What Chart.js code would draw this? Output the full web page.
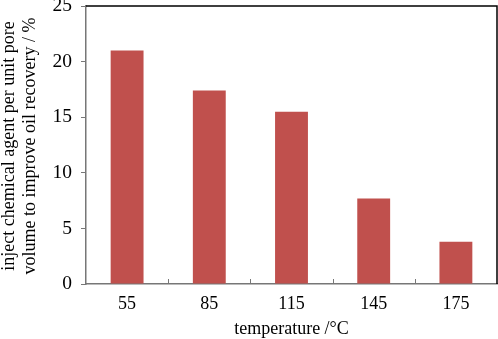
<!DOCTYPE html>
<html><head><meta charset="utf-8">
<script src="https://cdn.jsdelivr.net/npm/chart.js@4.4.0/dist/chart.umd.min.js"></script>
<style>html,body{margin:0;padding:0;background:#fff}#w{width:498px;height:339px}</style>
</head><body><div id="w"><canvas id="c"></canvas></div>
<script>
const categories = ["55", "85", "115", "145", "175"];
const values = [21.0, 17.4, 15.5, 7.7, 3.8];
const yTicks = [0, 5, 10, 15, 20, 25];
const xTitle = "temperature /\u00B0C";
const yTitle = ["inject chemical agent per unit pore", "volume to improve oil recovery / %"];

const frame = {
  id: 'frame',
  afterDraw(chart) {
    const {ctx, chartArea: a, scales} = chart;
    ctx.save();
    ctx.strokeStyle = '#000';
    ctx.lineWidth = 1.5;
    ctx.beginPath();
    ctx.moveTo(a.left, a.top); ctx.lineTo(a.right, a.top); ctx.lineTo(a.right, a.bottom);
    ctx.stroke();
    const xs = scales.x;
    ctx.strokeStyle = '#777';
    ctx.lineWidth = 1;
    ctx.beginPath();
    for (let i = 1; i < categories.length; i++) {
      const x = Math.round((xs.getPixelForValue(i - 1) + xs.getPixelForValue(i)) / 2) + 0.5;
      ctx.moveTo(x, a.bottom); ctx.lineTo(x, a.bottom - 5);
    }
    ctx.stroke();
    ctx.fillStyle = '#000';
    ctx.font = '18px "Liberation Serif"';
    ctx.textAlign = 'center';
    ctx.textBaseline = 'middle';
    const cy = (a.top + a.bottom) / 2 + 1;
    ctx.translate(9, cy);
    ctx.rotate(-Math.PI / 2);
    ctx.fillText(yTitle[0], 0, 0);
    ctx.fillText(yTitle[1], 0, 21);
    ctx.restore();
  }
};

new Chart(document.getElementById('c'), {
  type: 'bar',
  data: { labels: categories, datasets: [{ data: values, backgroundColor: '#C0504D', barPercentage: 0.4, categoryPercentage: 1.0 }] },
  options: {
    responsive: true, maintainAspectRatio: false, animation: false,
    layout: { padding: { top: 6, right: 1, left: 0, bottom: 0 } },
    plugins: { legend: { display: false }, tooltip: { enabled: false } },
    scales: {
      x: {
        afterFit(s) { s.height = 55; },
        grid: { display: true, drawOnChartArea: false, drawTicks: false, offset: true },
        border: { color: '#777', width: 1.5 },
        ticks: { color: '#000', font: { family: 'Liberation Serif', size: 18, lineHeight: 1.0 }, padding: 11 },
        title: { display: true, text: xTitle, color: '#000', font: { family: 'Liberation Serif', size: 18, lineHeight: 1.0 }, padding: { top: 0, bottom: 1 } }
      },
      y: {
        min: 0, max: 25,
        afterBuildTicks(s) { s.ticks = yTicks.map(v => ({ value: v })); },
        afterFit(s) { s.paddingTop = 0; s.paddingBottom = 0; s.width = 86; },
        grid: { drawOnChartArea: false, drawTicks: true, tickLength: 5, color: '#777' },
        border: { color: '#777', width: 1.5 },
        ticks: { color: '#000', font: { family: 'Liberation Serif', size: 19.5 }, padding: 9 }
      }
    }
  },
  plugins: [frame]
});
</script></body></html>
